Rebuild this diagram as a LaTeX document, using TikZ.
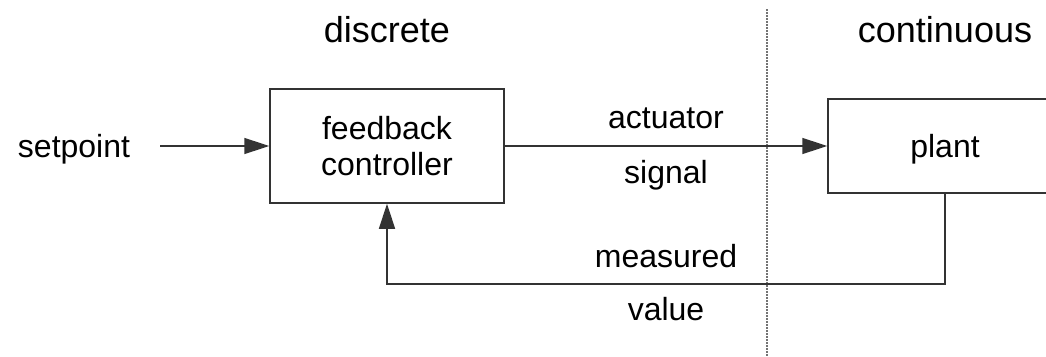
\documentclass[tikz,border=0pt]{standalone}
\usepackage{fontspec}
\setmainfont{Liberation Sans}
\usetikzlibrary{arrows.meta}
\begin{document}
\begin{tikzpicture}[x=1pt,y=-1pt,
  line/.style={draw=black!80, line width=1.5pt},
  arr/.style={line, -{Triangle[length=25pt,width=16pt]}},
  block/.style={line, rectangle, minimum width=234pt, inner sep=0pt},
  label/.style={anchor=base, inner sep=0pt, font=\fontsize{32}{36}\selectfont},
  title/.style={anchor=base, inner sep=0pt, font=\fontsize{36}{40}\selectfont},
  divider/.style={draw=black!55, line width=1.5pt, dash pattern=on 1.5pt off 1.5pt}]
\useasboundingbox (0,0) rectangle (1046,356);
\clip (0,0) rectangle (1046,356);

% domain titles and the boundary between them
\node[title] (discrete) at (387,42) {discrete};
\node[title] (continuous) at (945,42) {continuous};
\coordinate (divtop) at (767,9);
\coordinate (divbot) at (767,356);
\draw[divider] (divtop) -- (divbot);

% blocks
\node[block, minimum height=114pt] (ctrl) at (387,146) {};
\node[label] (ctrl1) at (387,139) {feedback};
\node[label] (ctrl2) at (387,175) {controller};
\node[block, minimum height=94pt] (plant) at (945,146) {};
\node[label] (plantlbl) at (945,157) {plant};

% input
\node[label] (setpoint) at (74,157) {setpoint};
\coordinate (spin) at (160,146);
\draw[arr] (spin) -- (ctrl.west);

% actuator signal
\draw[arr] (ctrl.east) -- (plant.west);
\node[label] (act) at (666,128) {actuator};
\node[label] (sig) at (666,183) {signal};

% feedback path
\coordinate (fb) at (666,284);
\draw[arr] (plant.south) |- (fb) -| (ctrl.south);
\node[label] (meas) at (666,267) {measured};
\node[label] (val) at (666,320) {value};
\end{tikzpicture}
\end{document}
